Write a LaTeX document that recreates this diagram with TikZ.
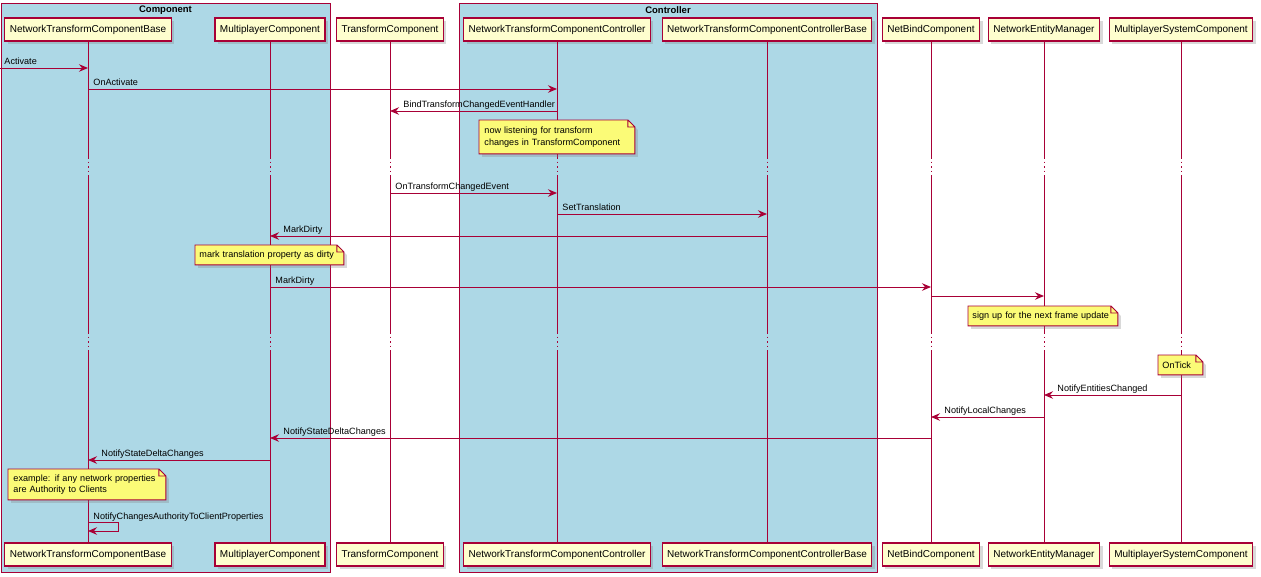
\documentclass[tikz,border=0pt]{standalone}
\usepackage{fontspec}
\setmainfont{Liberation Sans}
\usetikzlibrary{arrows.meta,shadows}

\definecolor{umlborder}{HTML}{A80036}
\definecolor{partfill}{HTML}{FEFECE}
\definecolor{notefill}{HTML}{FBFB77}
\definecolor{grpfill}{HTML}{ADD8E6}

% note shape: rectangle with a folded top-right corner
\newdimen\noteXa \newdimen\noteYa
\newdimen\noteXb \newdimen\noteYb
\newdimen\noteXc \newdimen\noteYc
\makeatletter
\pgfdeclareshape{umlnote}{%
  \inheritsavedanchors[from=rectangle]%
  \inheritanchorborder[from=rectangle]%
  \inheritanchor[from=rectangle]{center}%
  \inheritanchor[from=rectangle]{north}%
  \inheritanchor[from=rectangle]{south}%
  \inheritanchor[from=rectangle]{east}%
  \inheritanchor[from=rectangle]{west}%
  \inheritanchor[from=rectangle]{north west}%
  \inheritanchor[from=rectangle]{north east}%
  \inheritanchor[from=rectangle]{south west}%
  \inheritanchor[from=rectangle]{south east}%
  \inheritanchor[from=rectangle]{base}%
  \inheritanchor[from=rectangle]{mid}%
  \backgroundpath{%
    \southwest \noteXa=\pgf@x \noteYa=\pgf@y
    \northeast \noteXb=\pgf@x \noteYb=\pgf@y
    \noteXc=\noteXb \advance\noteXc by -7pt
    \noteYc=\noteYb \advance\noteYc by -7pt
    \pgfpathmoveto{\pgfqpoint{\noteXa}{\noteYa}}%
    \pgfpathlineto{\pgfqpoint{\noteXa}{\noteYb}}%
    \pgfpathlineto{\pgfqpoint{\noteXc}{\noteYb}}%
    \pgfpathlineto{\pgfqpoint{\noteXb}{\noteYc}}%
    \pgfpathlineto{\pgfqpoint{\noteXb}{\noteYa}}%
    \pgfpathclose
    \pgfpathmoveto{\pgfqpoint{\noteXb}{\noteYc}}%
    \pgfpathlineto{\pgfqpoint{\noteXc}{\noteYc}}%
    \pgfpathlineto{\pgfqpoint{\noteXc}{\noteYb}}%
  }%
}
\makeatother

\tikzset{
  txt/.style={font=\fontsize{9.1}{11.5}\selectfont},
  grp/.style={draw=umlborder, fill=grpfill, line width=0.9pt, anchor=north west, inner sep=0pt},
  grptitle/.style={font=\fontsize{9.5}{11}\selectfont\bfseries, inner sep=0pt},
  part/.style={draw=umlborder, fill=partfill, line width=1.2pt, minimum height=23pt,
    inner xsep=5pt, inner ysep=0pt, font=\fontsize{10}{12}\selectfont,
    drop shadow={shadow xshift=3pt, shadow yshift=-3pt, opacity=0.3}},
  life/.style={draw=umlborder, line width=0.9pt},
  lifedots/.style={draw=umlborder, line width=0.9pt, dash pattern=on 1.5pt off 3pt},
  msg/.style={draw=umlborder, line width=0.9pt,
    -{Stealth[length=9pt, width=7.5pt, inset=3pt]}},
  rlabel/.style={txt, pos=0, anchor=base west, xshift=5pt, yshift=3.5pt, inner sep=0pt},
  llabel/.style={txt, pos=1, anchor=base west, xshift=13pt, yshift=3.5pt, inner sep=0pt},
  notebox/.style={shape=umlnote, draw=umlborder, fill=notefill, line width=0.9pt,
    anchor=north west, inner xsep=5pt, inner ysep=3pt, align=left, txt,
    drop shadow={shadow xshift=3pt, shadow yshift=-3pt, opacity=0.3}},
}

\begin{document}
\begin{tikzpicture}[x=1pt, y=-1pt]
\useasboundingbox (0,0) rectangle (1261,576);

% groups
\node[grp, minimum width=329pt, minimum height=569pt] (gcomp) at (1,3) {};
\node[grp, minimum width=418pt, minimum height=569pt] (gctrl) at (459,3) {};
\node[grptitle] (gcompT) at (165.5,10) {Component};
\node[grptitle] (gctrlT) at (668,10) {Controller};

% participants, top and bottom
\foreach \i/\x/\name in {1/88/NetworkTransformComponentBase, 2/270/MultiplayerComponent,
    3/390/TransformComponent, 4/557/NetworkTransformComponentController,
    5/767/NetworkTransformComponentControllerBase, 6/931/NetBindComponent,
    7/1044/NetworkEntityManager, 8/1181/MultiplayerSystemComponent}{
  \node[part] (p\i) at (\x,29.5) {\name};
  \node[part] (q\i) at (\x,554.5) {\name};
}

% lifelines with two delays
\foreach \i in {1,...,8}{
  \draw[life] (p\i.south) -- (p\i |- 0,157);
  \draw[lifedots] (p\i |- 0,157) -- (p\i |- 0,177);
  \draw[life] (p\i |- 0,177) -- (p\i |- 0,332);
  \draw[lifedots] (p\i |- 0,332) -- (p\i |- 0,350);
  \draw[life] (p\i |- 0,350) -- (q\i.north);
}

% messages
\coordinate (entry) at (0,68);
\draw[msg] (entry) -- (p1 |- entry) node[rlabel, xshift=-1pt] (m1) {Activate};
\draw[msg] (p1 |- 0,89) -- (p4 |- 0,89) node[rlabel] (m2) {OnActivate};
\draw[msg] (p4 |- 0,111) -- (p3 |- 0,111) node[llabel] (m3) {BindTransformChangedEventHandler};
\node[notebox, text width=145pt, minimum height=33pt] (n1) at (479,120)
  {now listening for transform\\changes in TransformComponent};

\draw[msg] (p3 |- 0,193) -- (p4 |- 0,193) node[rlabel] (m4) {OnTransformChangedEvent};
\draw[msg] (p4 |- 0,214) -- (p5 |- 0,214) node[rlabel] (m5) {SetTranslation};
\draw[msg] (p5 |- 0,236) -- (p2 |- 0,236) node[llabel] (m6) {MarkDirty};
\node[notebox, text width=140pt, minimum height=19pt, inner xsep=4pt] (n2) at (195,245)
  {mark translation property as dirty};
\draw[msg] (p2 |- 0,287) -- (p6 |- 0,287) node[rlabel] (m7) {MarkDirty};
\draw[msg] (p6 |- 0,296) -- (p7 |- 0,296);
\node[notebox, text width=141pt, minimum height=19pt, inner xsep=4pt] (n3) at (968,306)
  {sign up for the next frame update};

\node[notebox, text width=36pt, minimum height=19pt, inner xsep=4pt] (n4) at (1158,355)
  {OnTick};
\draw[msg] (p8 |- 0,395) -- (p7 |- 0,395) node[llabel] (m8) {NotifyEntitiesChanged};
\draw[msg] (p7 |- 0,417) -- (p6 |- 0,417) node[llabel] (m9) {NotifyLocalChanges};
\draw[msg] (p6 |- 0,438) -- (p2 |- 0,438) node[llabel] (m10) {NotifyStateDeltaChanges};
\draw[msg] (p2 |- 0,460) -- (p1 |- 0,460) node[llabel] (m11) {NotifyStateDeltaChanges};
\node[notebox, text width=147pt, minimum height=30pt] (n5) at (8,469)
  {example: if any network properties\\are Authority to Clients};

% self call
\draw[msg] (p1 |- 0,522) -- ++(30,0) node[rlabel, yshift=-0.5pt] (m12) {NotifyChangesAuthorityToClientProperties}
  -- ++(0,9) -- (p1 |- 0,531);
\end{tikzpicture}
\end{document}
